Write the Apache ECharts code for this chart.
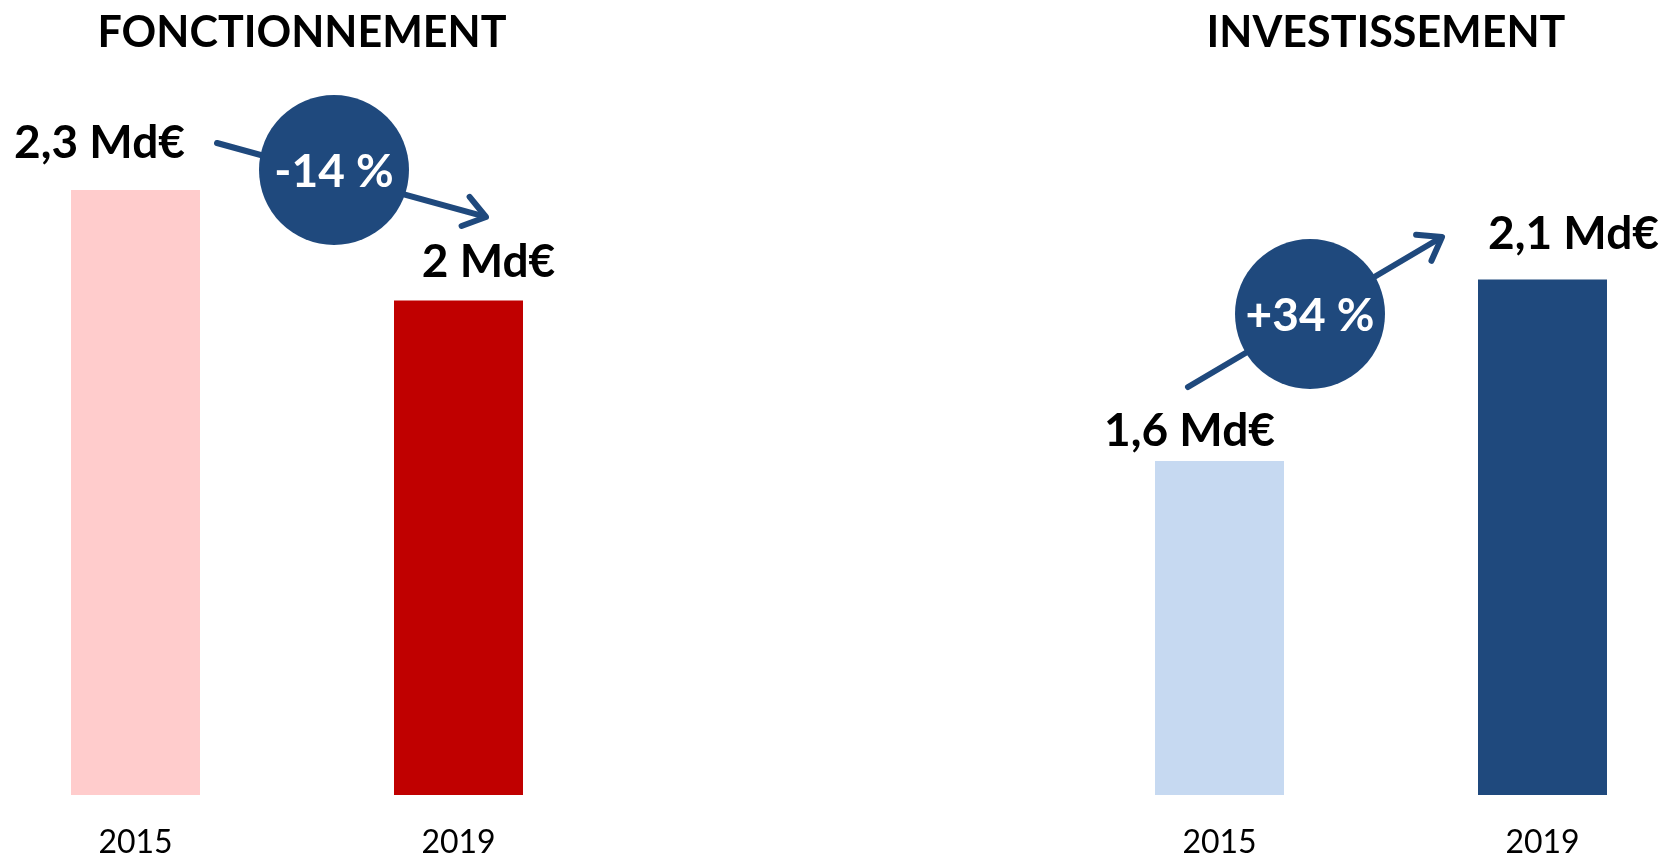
<!DOCTYPE html>
<html>
<head>
<meta charset="utf-8">
<script src="https://cdn.jsdelivr.net/npm/echarts@6/dist/echarts.min.js"></script>
<style>
html, body { margin: 0; padding: 0; background: #fff; }
#chart { width: 1670px; height: 859px; }
</style>
</head>
<body>
<div id="chart"></div>
<script>
// data (bar heights, in Md€ on a 0-2.3 scale)
var years = ['2015', '2019'];
var fonctValues = [2.3, 1.88];
var investValues = [1.27, 1.96];
var fonctLabels = ['2,3 Md€', '2 Md€'];
var investLabels = ['1,6 Md€', '2,1 Md€'];
var titles = ['FONCTIONNEMENT', 'INVESTISSEMENT'];
var changes = ['-14 %', '+34 %'];

var fonctColors = ['#FFCCCC', '#C00000'];
var investColors = ['#C6D9F1', '#1F497D'];
var navy = '#1F497D';
var font = 'Lato';

var myChart = echarts.init(document.getElementById('chart'));

function barData(values, labels, colors, offsets) {
    var out = [];
    for (var i = 0; i < values.length; i++) {
        out.push({
            value: values[i],
            itemStyle: { color: colors[i] },
            label: { formatter: labels[i], offset: offsets[i] }
        });
    }
    return out;
}

function arrow(x1, y1, x2, y2) {
    var ang = Math.atan2(y2 - y1, x2 - x1);
    var len = 26, spread = 0.62;
    var p1 = [x2 - len * Math.cos(ang - spread), y2 - len * Math.sin(ang - spread)];
    var p2 = [x2 - len * Math.cos(ang + spread), y2 - len * Math.sin(ang + spread)];
    var st = { stroke: navy, lineWidth: 6, lineCap: 'round', lineJoin: 'round', fill: null };
    return [
        { type: 'line', z: 1, shape: { x1: x1, y1: y1, x2: x2 - 3 * Math.cos(ang), y2: y2 - 3 * Math.sin(ang) }, style: st },
        { type: 'polyline', z: 1, shape: { points: [p1, [x2, y2], p2] }, style: st }
    ];
}

function bubble(cx, cy, txt) {
    return [
        { type: 'circle', z: 2, shape: { cx: cx, cy: cy, r: 75 }, style: { fill: navy } },
        { type: 'text', z: 3, x: cx, y: cy + 2, style: {
            text: txt, fill: '#fff', font: 'bold 46px ' + font, align: 'center', verticalAlign: 'middle' } }
    ];
}

var graphics = []
    .concat(arrow(217, 143, 486, 217))
    .concat(arrow(1188, 387, 1442, 237))
    .concat(bubble(334, 170, changes[0]))
    .concat(bubble(1310, 314, changes[1]));

var labelStyle = {
    show: true,
    position: 'top',
    distance: 0,
    color: '#000',
    fontFamily: font,
    fontWeight: 'bold',
    fontSize: 46
};

var option = {
    animation: false,
    backgroundColor: '#fff',
    title: [
        { text: titles[0], left: 297, top: 7, textAlign: 'center',
          textStyle: { fontFamily: font, fontWeight: 'bold', fontSize: 43, color: '#000' } },
        { text: titles[1], left: 1381, top: 7, textAlign: 'center',
          textStyle: { fontFamily: font, fontWeight: 'bold', fontSize: 43, color: '#000' } }
    ],
    grid: [
        { left: 135.5, right: 1211.5, top: 190, bottom: 62 },
        { left: 1219.5, right: 127.5, top: 190, bottom: 62 }
    ],
    xAxis: [0, 1].map(function (i) {
        return {
            gridIndex: i,
            type: 'category',
            boundaryGap: false,
            data: years,
            axisLine: { show: false },
            axisTick: { show: false },
            axisLabel: { margin: 32, color: '#000', fontFamily: font, fontSize: 32 }
        };
    }),
    yAxis: [0, 1].map(function (i) {
        return { gridIndex: i, type: 'value', min: 0, max: 2.3, show: false, splitLine: { show: false } };
    }),
    series: [
        {
            type: 'bar', xAxisIndex: 0, yAxisIndex: 0, barWidth: 129,
            label: labelStyle,
            data: barData(fonctValues, fonctLabels, fonctColors, [[-36, -24], [30, -15]])
        },
        {
            type: 'bar', xAxisIndex: 1, yAxisIndex: 1, barWidth: 129,
            label: labelStyle,
            data: barData(investValues, investLabels, investColors, [[-30, -7], [31, -22]])
        }
    ],
    graphic: graphics
};

if (option && typeof option === 'object') {
    myChart.setOption(option);
}
</script>
</body>
</html>
